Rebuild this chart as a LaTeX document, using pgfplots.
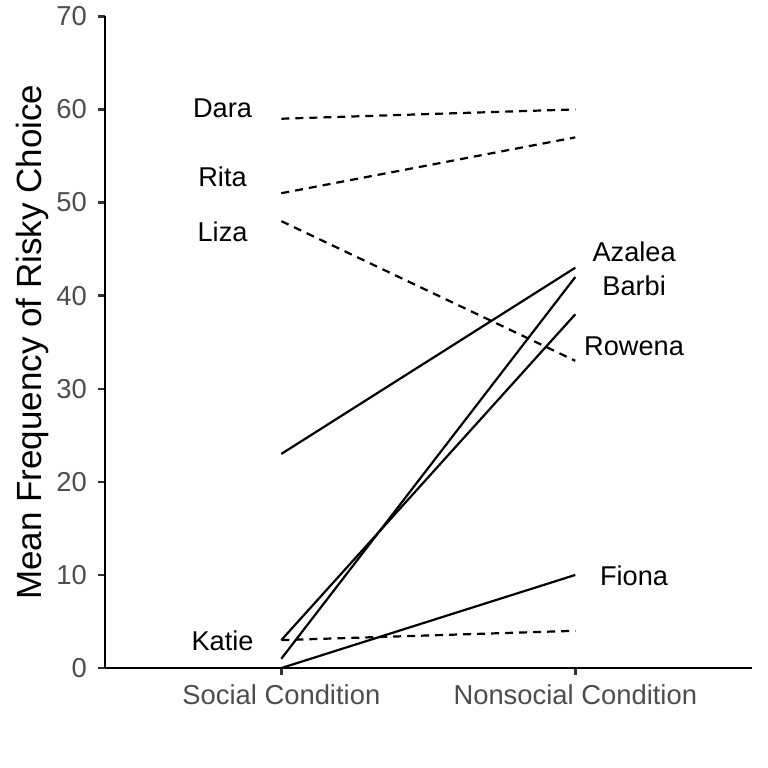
\documentclass[border=0pt]{standalone}
\usepackage{pgfplots}
\pgfplotsset{compat=1.18}
\usepackage{fontspec}
\setmainfont{Liberation Sans}
\definecolor{tickgray}{HTML}{4D4D4D}
\definecolor{tickmark}{HTML}{333333}
\tikzset{lbl/.style={font=\fontsize{13.6bp}{16bp}\selectfont, anchor=base},
  dl/.style={black, line width=1.1bp, dash pattern=on 4bp off 3bp},
  sl/.style={black, line width=1.1bp, solid}}
\begin{document}
\begin{tikzpicture}
\begin{axis}[
  scale only axis, width=323.5bp, height=326bp,
  xmin=0.4, xmax=2.6, ymin=0, ymax=70,
  axis lines=left,
  axis line style={-, line width=1.4bp, black},
  xtick={1,2}, xticklabels={Social Condition, Nonsocial Condition},
  ytick={0,10,...,70},
  tick align=outside, major tick length=3.5bp,
  tick style={tickmark, line width=1.2bp},
  every tick label/.append style={font=\fontsize{13.7bp}{16bp}\selectfont, text=tickgray},
  xticklabel style={yshift=-1.5bp},
  yticklabel style={xshift=-2bp},
  /pgf/number format/assume math mode=true,
  ylabel={Mean Frequency of Risky Choice},
  every axis y label/.style={at={(axis description cs:-0.112,0.5)}, rotate=90, anchor=center,
    font=\fontsize{17.5bp}{21bp}\selectfont},
  clip=false,
]
% dashed lines
\addplot[dl] coordinates {(1,59) (2,60)};
\addplot[dl] coordinates {(1,51) (2,57)};
\addplot[dl] coordinates {(1,48) (2,33)};
\addplot[dl] coordinates {(1,3) (2,4)};
% solid lines
\addplot[sl] coordinates {(1,23) (2,43)};
\addplot[sl] coordinates {(1,1) (2,42)};
\addplot[sl] coordinates {(1,3) (2,38)};
\addplot[sl] coordinates {(1,0) (2,10)};
% labels
\node[lbl] at (axis cs:0.8,59.09) {Dara};
\node[lbl] at (axis cs:0.8,51.77) {Rita};
\node[lbl] at (axis cs:0.8,45.80) {Liza};
\node[lbl] at (axis cs:0.8,1.86) {Katie};
\node[lbl] at (axis cs:2.2,43.65) {Azalea};
\node[lbl] at (axis cs:2.2,40.06) {Barbi};
\node[lbl] at (axis cs:2.2,33.6) {Rowena};
\node[lbl] at (axis cs:2.2,8.83) {Fiona};
\coordinate (SW) at (rel axis cs:0,0);
\coordinate (NE) at (rel axis cs:1,1);
\end{axis}
\path ([xshift=-52.5bp,yshift=-50bp]SW) rectangle ([xshift=8bp,yshift=8bp]NE);
\end{tikzpicture}
\end{document}
